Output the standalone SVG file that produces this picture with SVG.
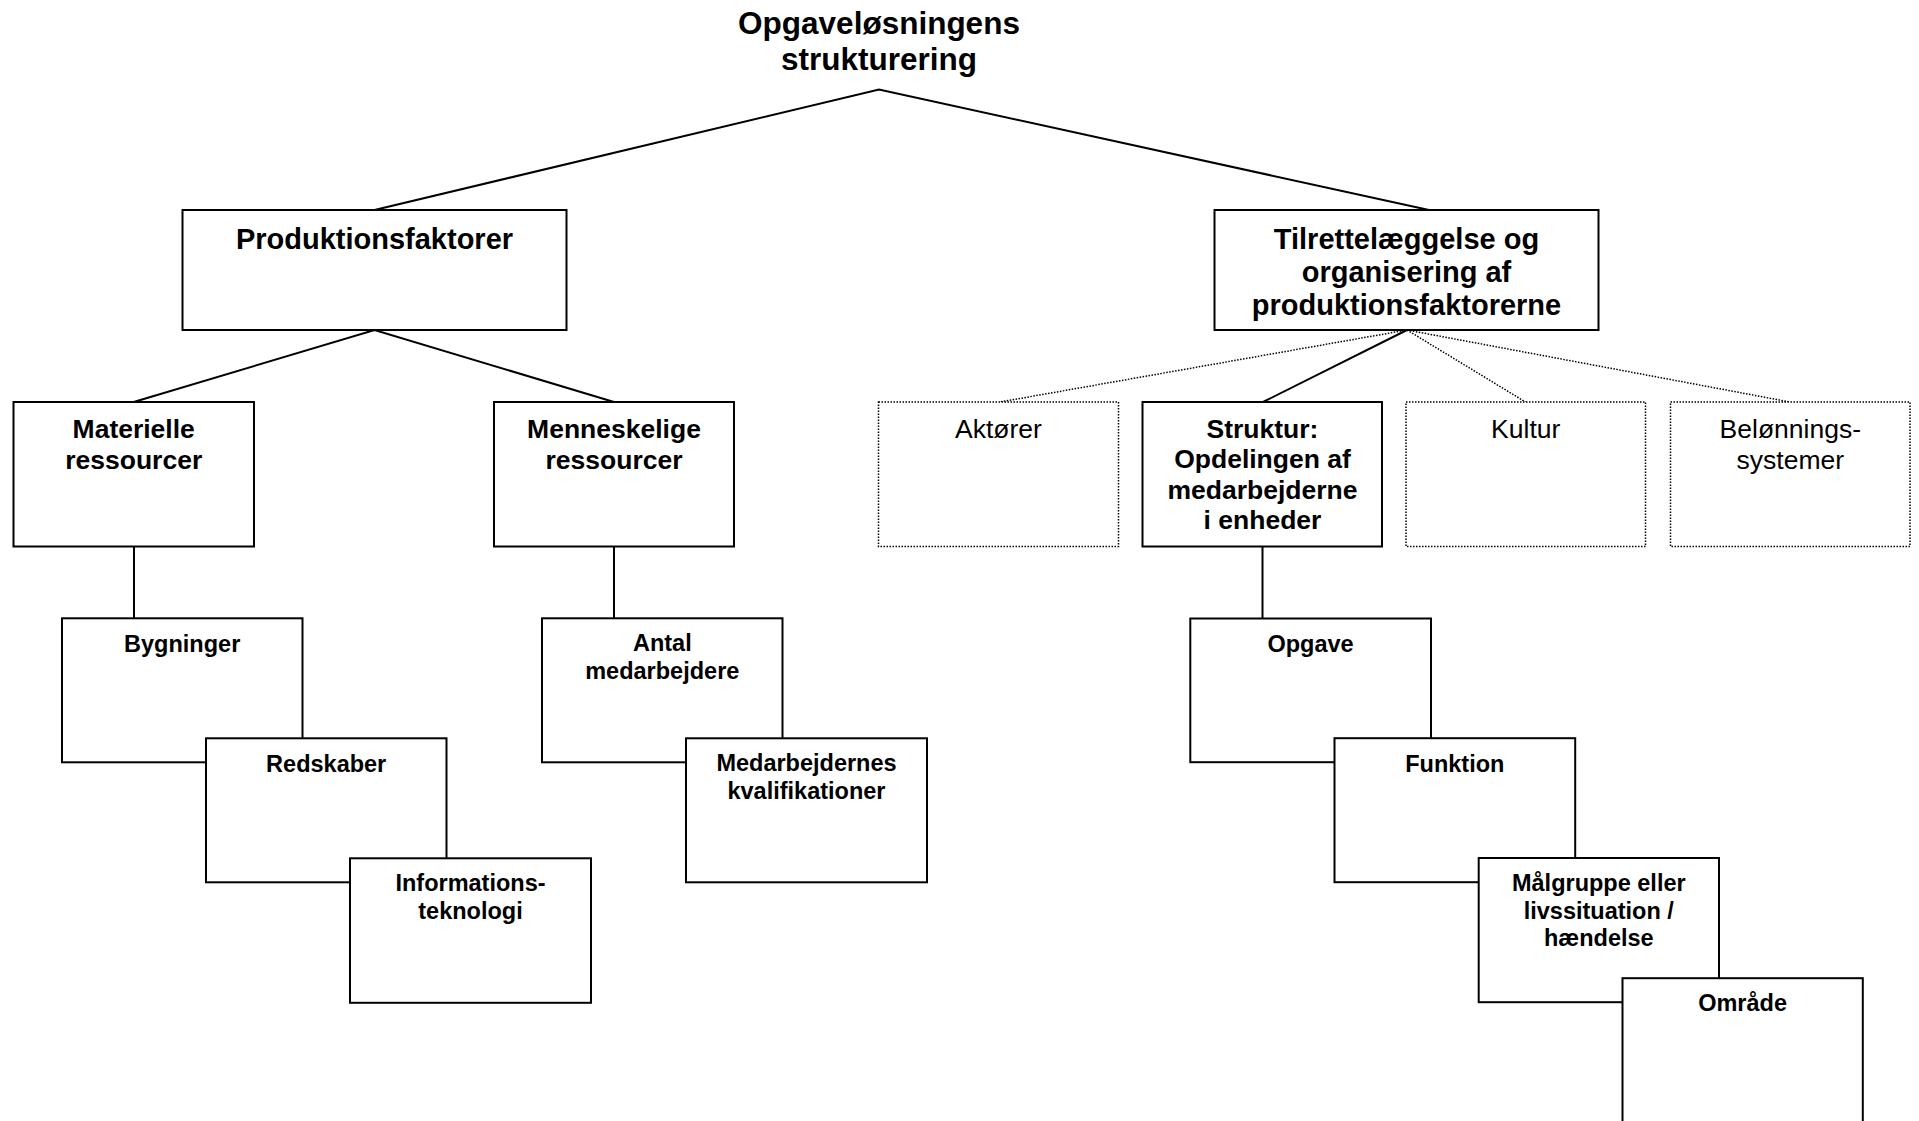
<svg xmlns="http://www.w3.org/2000/svg" width="1919" height="1121" viewBox="0 0 1919 1121">
<style>
text{font-family:"Liberation Sans",Arial,sans-serif;fill:#000;text-anchor:middle}
.b{font-weight:bold}
.t0{font-size:31.5px}
.t1{font-size:29px}
.t2{font-size:26.5px}
.t3{font-size:23.5px}
.box{fill:#fff;stroke:#000;stroke-width:2}
.dbox{fill:#fff;stroke:#000;stroke-width:1.5;stroke-dasharray:1.5 1.5}
.ln{stroke:#000;stroke-width:2;fill:none}
.dl{stroke:#000;stroke-width:1.5;stroke-dasharray:1.5 1.5;fill:none}
</style>
<rect width="1919" height="1121" fill="#fff"/>
<g id="connectors">
<polyline class="ln" points="374.5,210 879,89.5 1429,210"/>
<polyline class="ln" points="133.7,402 374.5,330 614,402"/>
<line class="dl" x1="1407" y1="330" x2="1000" y2="402"/>
<line class="ln" x1="1407" y1="330" x2="1263" y2="402"/>
<line class="dl" x1="1407" y1="330" x2="1525.5" y2="402"/>
<line class="dl" x1="1407" y1="330" x2="1790" y2="402"/>
<line class="ln" x1="134" y1="546" x2="134" y2="618"/>
<line class="ln" x1="614" y1="546" x2="614" y2="618"/>
<line class="ln" x1="1262.5" y1="546.5" x2="1262.5" y2="618.5"/>
</g>
<g id="title">
<text class="b t0" x="879" y="33.5">Opgaveløsningens</text>
<text class="b t0" x="879" y="69.5">strukturering</text>
</g>
<g id="produktionsfaktorer">
<rect class="box" x="182.5" y="210" width="384" height="120"/>
<text class="b t1" x="374.5" y="249">Produktionsfaktorer</text>
</g>
<g id="tilrettelaeggelse">
<rect class="box" x="1214.5" y="210" width="384" height="120"/>
<text class="b t1" x="1406.5" y="249">Tilrettelæggelse og</text>
<text class="b t1" x="1406.5" y="282">organisering af</text>
<text class="b t1" x="1406.5" y="315">produktionsfaktorerne</text>
</g>
<g id="materielle">
<rect class="box" x="13.5" y="402" width="240.5" height="144.5"/>
<text class="b t2" x="133.7" y="437.5">Materielle</text>
<text class="b t2" x="133.7" y="468.5">ressourcer</text>
</g>
<g id="menneskelige">
<rect class="box" x="494" y="402" width="240" height="144.5"/>
<text class="b t2" x="614" y="437.5">Menneskelige</text>
<text class="b t2" x="614" y="468.5">ressourcer</text>
</g>
<g id="aktoerer">
<rect class="dbox" x="878.5" y="402" width="240" height="144.5"/>
<text class="t2" x="998.5" y="437.5">Aktører</text>
</g>
<g id="struktur">
<rect class="box" x="1142.5" y="402" width="239.5" height="144.5"/>
<text class="b t2" x="1262.5" y="437.5">Struktur:</text>
<text class="b t2" x="1262.5" y="468">Opdelingen af</text>
<text class="b t2" x="1262.5" y="498.5">medarbejderne</text>
<text class="b t2" x="1262.5" y="529">i enheder</text>
</g>
<g id="kultur">
<rect class="dbox" x="1406" y="402" width="239.5" height="144.5"/>
<text class="t2" x="1525.7" y="437.5">Kultur</text>
</g>
<g id="beloenningssystemer">
<rect class="dbox" x="1670.5" y="402" width="239.5" height="144.5"/>
<text class="t2" x="1790.3" y="437.5">Belønnings-</text>
<text class="t2" x="1790.3" y="468.5">systemer</text>
</g>
<g id="bygninger">
<rect class="box" x="62" y="618.3" width="240.5" height="144"/>
<text class="b t3" x="182.2" y="651.5">Bygninger</text>
</g>
<g id="redskaber">
<rect class="box" x="206" y="738.3" width="240.5" height="144"/>
<text class="b t3" x="326.2" y="771.5">Redskaber</text>
</g>
<g id="informationsteknologi">
<rect class="box" x="350" y="858.3" width="241" height="144.5"/>
<text class="b t3" x="470.5" y="891">Informations-</text>
<text class="b t3" x="470.5" y="918.5">teknologi</text>
</g>
<g id="antal">
<rect class="box" x="542" y="618.3" width="240.5" height="144"/>
<text class="b t3" x="662.3" y="651">Antal</text>
<text class="b t3" x="662.3" y="678.5">medarbejdere</text>
</g>
<g id="kvalifikationer">
<rect class="box" x="686" y="738.3" width="241" height="144"/>
<text class="b t3" x="806.5" y="771">Medarbejdernes</text>
<text class="b t3" x="806.5" y="798.5">kvalifikationer</text>
</g>
<g id="opgave">
<rect class="box" x="1190.3" y="618.5" width="240.7" height="143.7"/>
<text class="b t3" x="1310.6" y="651.5">Opgave</text>
</g>
<g id="funktion">
<rect class="box" x="1334.5" y="738.2" width="240.7" height="144"/>
<text class="b t3" x="1454.8" y="771.5">Funktion</text>
</g>
<g id="maalgruppe">
<rect class="box" x="1478.7" y="858" width="240.3" height="144.2"/>
<text class="b t3" x="1598.8" y="891">Målgruppe eller</text>
<text class="b t3" x="1598.8" y="918.5">livssituation /</text>
<text class="b t3" x="1598.8" y="946">hændelse</text>
</g>
<g id="omraade">
<rect class="box" x="1622.5" y="978.2" width="240.3" height="150"/>
<text class="b t3" x="1742.6" y="1010.5">Område</text>
</g>
</svg>
